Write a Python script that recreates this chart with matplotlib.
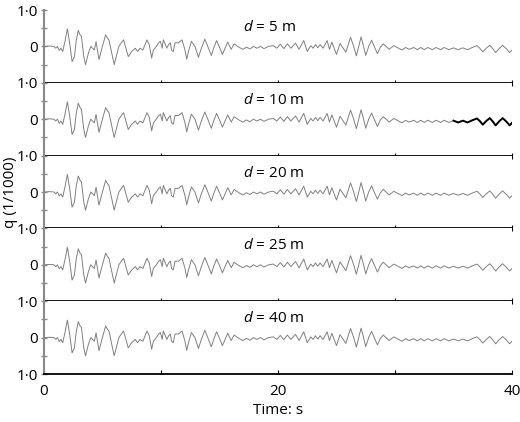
import matplotlib
matplotlib.use('Agg')
import matplotlib.pyplot as plt
import numpy as np

plt.rcParams['font.family'] = ['Open Sans', 'DejaVu Sans']
plt.rcParams['mathtext.fontset'] = 'custom'
plt.rcParams['mathtext.it'] = 'Open Sans:italic'
plt.rcParams['mathtext.rm'] = 'Open Sans'

# rotation trace (time in s, q in 1/1000)
time = [0.0, 0.5, 0.85, 1.0, 1.15, 1.3, 1.45, 1.6, 1.8, 2.0, 2.2, 2.4, 2.6,
        2.75, 2.93, 3.08, 3.2, 3.4, 3.55, 3.8, 4.0, 4.15, 4.3, 4.45, 4.7, 4.95,
        5.27, 5.42, 5.55, 5.8, 6.0, 6.4, 6.7, 6.8, 7.2, 7.5, 7.8, 8.0, 8.2,
        8.45, 8.8, 9.0, 9.2, 9.35, 9.6, 9.8, 9.95, 10.1, 10.2, 10.5, 10.65,
        10.8, 10.9, 11.05, 11.2, 11.5, 11.8, 12.05, 12.2, 12.35, 12.6, 12.9,
        13.2, 13.45, 13.75, 14.0, 14.3, 14.5, 14.75, 15.0, 15.25, 15.5, 15.7,
        16.0, 16.25, 16.7, 17.0, 17.3, 17.6, 17.9, 18.2, 18.5, 18.8, 19.2,
        19.6, 19.9, 20.2, 20.5, 20.8, 21.1, 21.5, 21.8, 22.2, 22.5, 22.8, 23.0,
        23.2, 23.4, 23.6, 23.85, 24.2, 24.4, 24.6, 25.0, 25.3, 25.8, 26.0, 26.2,
        26.45, 26.7, 26.9, 27.1, 27.3, 27.5, 27.75, 28.0, 28.25, 28.5, 28.75,
        29.0, 29.5, 29.9, 30.3, 30.6, 30.9, 31.2, 31.6, 31.9, 32.2, 32.5,
        32.8, 33.2, 33.5, 33.9, 34.2, 34.6, 35.0, 35.4, 35.8, 36.2, 36.6, 37.0,
        37.25, 37.5, 37.8, 38.1, 38.35, 38.6, 38.9, 39.2, 39.5, 39.8, 40.0]
q = [0.0, 0.01, 0.0, -0.05, 0.0, -0.11, -0.05, -0.14, 0.15, 0.48, 0.08, -0.42,
     -0.28, 0.15, 0.44, 0.32, 0.28, -0.28, -0.5, -0.18, 0.0, -0.05, -0.1,
     0.13, -0.36, -0.05, 0.32, 0.23, 0.18, -0.2, -0.5, 0.0, 0.14, 0.18, -0.28,
     -0.14, -0.05, -0.14, -0.05, -0.1, 0.18, 0.05, -0.32, -0.1, 0.0, 0.1,
     0.14, -0.05, 0.18, -0.05, 0.05, 0.1, -0.1, -0.14, 0.1, 0.1, 0.18, -0.1,
     -0.35, -0.14, 0.14, 0.0, -0.3, -0.05, 0.2, 0.0, -0.25, -0.05, 0.16,
     -0.02, -0.22, -0.03, 0.12, -0.08, 0.07, -0.03, -0.08, -0.02, -0.07, 0.0,
     -0.05, 0.0, -0.06, 0.0, 0.02, -0.05, 0.06, -0.06, 0.07, -0.05, 0.09,
     -0.08, 0.16, -0.14, 0.02, -0.05, 0.05, -0.04, 0.05, -0.05, 0.16, -0.08,
     0.12, -0.22, 0.08, -0.16, 0.05, 0.25, 0.02, -0.26, 0.0, 0.26, 0.02,
     -0.25, 0.0, 0.17, -0.02, -0.2, -0.02, 0.07, -0.08, 0.02, -0.05, -0.1,
     -0.03, -0.08, -0.03, -0.09, -0.03, -0.09, -0.03, -0.09, -0.03, -0.09,
     -0.03, -0.09, -0.04, -0.09, -0.04, -0.09, -0.03, 0.02, -0.05, -0.15,
     -0.05, 0.03, -0.06, -0.17, -0.06, 0.03, -0.06, -0.17, -0.1]

depths = [5, 10, 20, 25, 40]
bold_from = 34.8   # dark part of the d = 10 m trace

t = np.array(time)
qa = np.array(q)

fig = plt.figure(figsize=(5.2, 4.22), dpi=100)
left, right = 44 / 520, 512 / 520
top, bottom = 1 - 10 / 422, 1 - 374 / 422
h = (top - bottom) / len(depths)

for i, d in enumerate(depths):
    ax = fig.add_axes([left, top - (i + 1) * h, right - left, h])
    ax.plot(t, qa, color='#808080', lw=0.7)
    if d == 10:
        m = t >= bold_from
        ax.plot(t[m], qa[m], color='black', lw=1.4)
    ax.set_xlim(0, 40)
    ax.set_ylim(-1, 1)
    ax.text(17, 0.52, '$d$ = %d m' % d, fontsize=11, ha='left', va='center')

    for s in ['top', 'right']:
        ax.spines[s].set_visible(False)
    ax.spines['left'].set_color('#8a8a8a')
    ax.spines['left'].set_linewidth(1.5)
    ax.spines['bottom'].set_color('black')
    ax.spines['bottom'].set_linewidth(1.3)

    last = i == len(depths) - 1
    if last:
        ax.set_yticks([-1, 0, 1])
        ax.set_yticklabels(['1·0', '0', '1·0'])
    else:
        ax.set_yticks([0, 1])
        ax.set_yticklabels(['0', '1·0'])
    ax.set_yticks([-0.5, 0.5], minor=True)
    ax.tick_params(axis='y', which='both', direction='inout', length=5,
                   color='#8a8a8a', width=1, labelsize=11, pad=2)

    ax.set_xticks([0, 10, 20, 30, 40])
    if last:
        ax.set_xticklabels(['0', '', '20', '', '40'])
        ax.tick_params(axis='x', direction='in', length=3, labelsize=11, pad=7)
        ax.set_xlabel('Time: s', fontsize=11, labelpad=3)
    else:
        ax.set_xticklabels([])
        ax.tick_params(axis='x', direction='inout', length=4)

fig.text(10 / 520, 1 - 192 / 422, 'q (1/1000)', rotation=90, fontsize=11,
         ha='center', va='center')

fig.savefig('out.png', dpi=100)
